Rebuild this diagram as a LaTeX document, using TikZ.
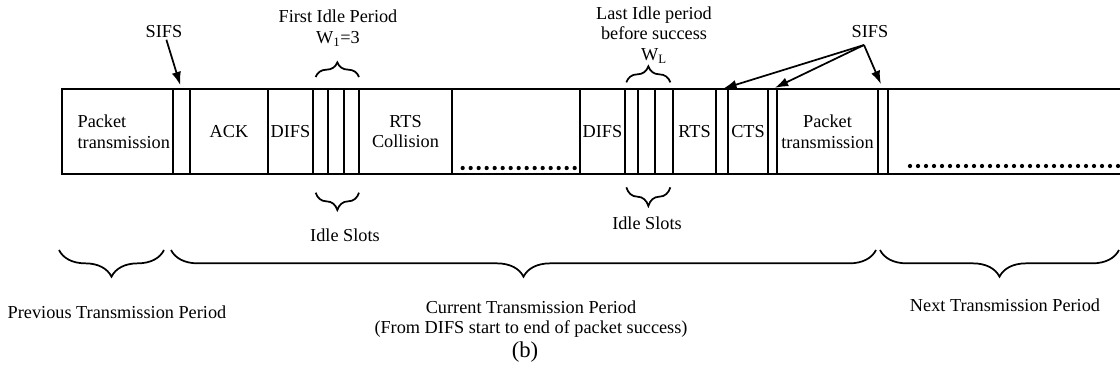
\documentclass[tikz,border=0pt]{standalone}
\usepackage{fontspec}
\setmainfont{Liberation Serif}
\usetikzlibrary{arrows.meta,decorations.pathreplacing}
\tikzset{
  seg/.style={draw, line width=1.6pt, anchor=north west, inner sep=0pt, outer sep=0pt, minimum height=63.75pt, align=center},
  lbl/.style={align=center, inner sep=1pt},
  arrow/.style={-{Latex[length=10pt,width=7pt]}, line width=1.3pt},
  brc/.style={decorate, decoration={brace, amplitude=#1}, line width=1.3pt},
  dotrow/.style={line width=3.2pt, line cap=round, dash pattern=on 0pt off 6pt}
}

\begin{document}
\begin{tikzpicture}[x=0.75pt, y=-0.75pt, font=\fontsize{13.7}{15.5}\selectfont]
  \useasboundingbox (0,0) rectangle (1120,376);
  % time line, one node per interval
  \node[seg, minimum width=83.25pt] (pktA) at (62,89) {};
  \node[lbl, anchor=west, align=left, inner sep=0pt] (pktAtxt) at ([xshift=11.5pt]pktA.west) {Packet\\transmission};
  \node[seg, minimum width=12.75pt] (sifsA) at (173,89) {};
  \node[seg, minimum width=58.5pt] (ack) at (190,89) {ACK};
  \node[seg, minimum width=33.75pt] (difsA) at (268,89) {DIFS};
  \node[seg, minimum width=11.25pt] (slotA1) at (313,89) {};
  \node[seg, minimum width=12pt] (slotA2) at (328,89) {};
  \node[seg, minimum width=11.25pt] (slotA3) at (344,89) {};
  \node[seg, minimum width=69.75pt] (rtscol) at (359,89) {RTS\\Collision};
  \node[seg, minimum width=96pt] (gap) at (452,89) {};
  \node[seg, minimum width=33.75pt] (difsB) at (580,89) {DIFS};
  \node[seg, minimum width=9.75pt] (slotB1) at (625,89) {};
  \node[seg, minimum width=12.75pt] (slotB2) at (638,89) {};
  \node[seg, minimum width=13.5pt] (slotB3) at (655,89) {};
  \node[seg, minimum width=32.25pt] (rts) at (673,89) {RTS};
  \node[seg, minimum width=9pt] (sifsB) at (716,89) {};
  \node[seg, minimum width=30pt] (cts) at (728,89) {CTS};
  \node[seg, minimum width=6.75pt] (sifsC) at (768,89) {};
  \node[seg, minimum width=75.75pt] (pktB) at (777,89) {Packet\\transmission};
  \node[seg, minimum width=7.5pt] (sifsD) at (878,89) {};
  \draw[line width=1.6pt] (sifsD.north east) -- (1120,89);
  \draw[line width=1.6pt] (sifsD.south east) -- (1120,174);
  \draw[dotrow] ([xshift=8pt,yshift=4.5pt]gap.south west) -- ([xshift=-4pt,yshift=4.5pt]gap.south east);
  \draw[dotrow] ([xshift=16.5pt,yshift=6pt]sifsD.south east) -- (1118,166);

  % labels above
  \node[lbl] (sifsTxtA) at (164,32) {SIFS};
  \node[lbl] (sifsTxtB) at (870,32) {SIFS};
  \coordinate (sifsFork) at (864,45);
  \node[lbl] (firstIdle) at (338,28) {First Idle Period\\W\textsubscript{1}=3};
  \node[lbl] (lastIdle) at (654,35) {Last Idle period\\before success\\W\textsubscript{L}};
  \draw[arrow, shorten >=3pt] (sifsTxtA) -- (sifsA.north);
  \draw[arrow, shorten >=1pt] (sifsFork) -- (sifsB.north);
  \draw[arrow, shorten >=2pt] (sifsFork) -- (sifsC.north);
  \draw[arrow, shorten >=4pt] (sifsFork) -- (sifsD.north);
  \draw[brc=11pt] ([xshift=2pt,yshift=9pt]slotA1.north west) -- ([yshift=9pt]slotA3.north east);
  \draw[brc=12pt] ([xshift=1pt,yshift=5pt]slotB1.north west) -- ([xshift=-2pt,yshift=5pt]slotB3.north east);

  % labels below
  \draw[brc=13pt] ([yshift=-14pt]slotA3.south east) -- ([xshift=2pt,yshift=-14pt]slotA1.south west);
  \draw[brc=14pt] ([xshift=-2pt,yshift=-10pt]slotB3.south east) -- ([xshift=1pt,yshift=-10pt]slotB1.south west);
  \node[lbl] (idleA) at (345,235) {Idle Slots};
  \node[lbl] (idleB) at (647,223) {Idle Slots};
  \draw[brc=20pt] (164,250) -- (59,250);
  \draw[brc=20pt] (876,250) -- (171,250);
  \draw[brc=20pt] (1119,250) -- (880,250);
  \node[lbl] (prevTx) at (117,312) {Previous Transmission Period};
  \node[lbl] (curTx) at (531,319) {Current Transmission Period\\(From DIFS start to end of packet success)};
  \node[lbl] (nextTx) at (1005,305) {Next Transmission Period};
  \node[lbl, font=\fontsize{17}{20}\selectfont] (figB) at (525,352) {(b)};
\end{tikzpicture}
\end{document}
